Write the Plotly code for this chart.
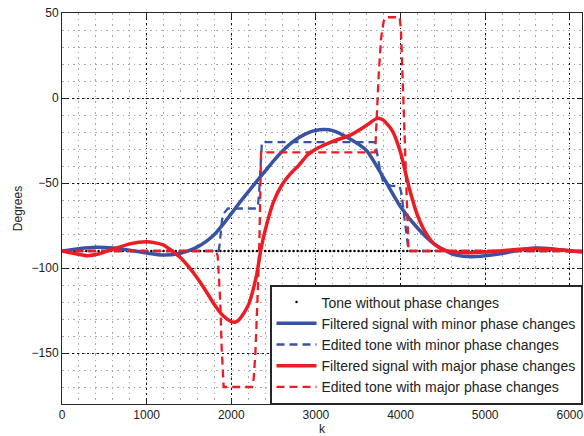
import plotly.graph_objects as go

# ---- data ----
tone_k = list(range(0, 6145, 48))
tone_deg = [-90] * len(tone_k)

blue_solid_k = [0, 200, 400, 600, 800, 1000, 1200, 1400, 1500, 1600, 1700, 1800, 1900, 2000, 2100,
                2200, 2300, 2400, 2500, 2600, 2700, 2800, 2900, 3000, 3100, 3200, 3400, 3600, 3800,
                4000, 4200, 4400, 4600, 4800, 5000, 5200, 5400, 5600, 5800, 6000, 6144]
blue_solid_deg = [-90, -88.6, -87.8, -88.2, -89.5, -91.2, -92.4, -91.3, -89.8, -87.6, -84.5, -80.3,
                  -74.5, -68.0, -61.5, -55.2, -49.0, -43.0, -37.0, -31.5, -26.8, -23.2, -20.6, -19.0,
                  -18.5, -19.2, -24.0, -31.0, -47.0, -64.0, -76.5, -86.0, -91.5, -93.3, -92.8, -91.5,
                  -89.5, -88.3, -88.8, -90.0, -90.5]

blue_dash_k = [0, 1850, 1862, 1875, 1890, 1910, 1930, 1960, 2300, 2318, 2330, 2340, 2350, 2362,
               3700, 3712, 3730, 3760, 3790, 3830, 3880, 3990, 4010, 4040, 4070, 4095, 6144]
blue_dash_deg = [-90, -90, -86.5, -79, -72, -68, -66.5, -65, -65, -62, -55, -45, -32, -26,
                 -26, -30, -35, -43, -48.5, -50.5, -51.5, -52, -56, -68, -80, -90, -90]

red_solid_k = [0, 150, 300, 450, 600, 800, 1000, 1200, 1400, 1500, 1600, 1700, 1800, 1900, 2000,
               2050, 2100, 2200, 2300, 2350, 2400, 2500, 2600, 2700, 2800, 2900, 3000, 3200, 3400,
               3600, 3700, 3750, 3800, 3900, 4000, 4100, 4200, 4300, 4400, 4500, 4600, 4800, 5000,
               5200, 5400, 5600, 5800, 6000, 6144]
red_solid_deg = [-90, -91.5, -92.8, -91.5, -89, -85.8, -84.5, -86.5, -94, -99.5, -106, -113.5,
                 -121.5, -128, -131.5, -131.8, -130, -122, -104, -89, -78, -61, -51, -44.5, -39.5,
                 -33.5, -30, -25.5, -22, -16, -12.5, -12, -13.2, -19, -32, -52.5, -69, -79.5, -86,
                 -89, -90.5, -91, -90.6, -89.8, -89, -88.5, -89, -89.8, -90.4]

red_dash_k = [0, 1820, 1840, 1855, 1870, 1885, 1900, 1910, 2245, 2265, 2285, 2305, 2320, 2332, 2343,
              2352, 3700, 3710, 3722, 3743, 3770, 3800, 3825, 3990, 4005, 4020, 4040, 4060, 4080,
              4095, 6144]
red_dash_deg = [-90, -90, -93, -104, -120, -145, -165, -170, -170, -165, -150, -127, -105, -85, -55,
                -32, -32, -20, -5, 15, 35, 45, 47.5, 47.5, 40, 18, -8, -34, -65, -90, -90]

x_ticks = [0, 1000, 2000, 3000, 4000, 5000, 6000]
y_ticks = [-150, -100, -50, 0, 50]

BLUE = "#3953A4"
RED = "#ED1C24"
FONT = "Liberation Sans"

fig = go.Figure()
fig.add_trace(go.Scatter(x=tone_k, y=tone_deg, mode="markers",
                         marker=dict(color="black", size=2.5),
                         name="Tone without phase changes"))
fig.add_trace(go.Scatter(x=blue_solid_k, y=blue_solid_deg, mode="lines",
                         line=dict(color=BLUE, width=3.5, shape="spline", smoothing=0.6),
                         name="Filtered signal with minor phase changes"))
fig.add_trace(go.Scatter(x=blue_dash_k, y=blue_dash_deg, mode="lines",
                         line=dict(color=BLUE, width=2.3, dash="8px,5px"),
                         name="Edited tone with minor phase changes"))
fig.add_trace(go.Scatter(x=red_solid_k, y=red_solid_deg, mode="lines",
                         line=dict(color=RED, width=3.5, shape="spline", smoothing=0.6),
                         name="Filtered signal with major phase changes"))
fig.add_trace(go.Scatter(x=red_dash_k, y=red_dash_deg, mode="lines",
                         line=dict(color=RED, width=2.3, dash="8px,5px"),
                         name="Edited tone with major phase changes"))

axis_common = dict(
    showline=True, linecolor="#262626", linewidth=1, mirror="ticks",
    ticks="inside", ticklen=5, tickcolor="#262626",
    showgrid=True, gridcolor="#111111", gridwidth=1, griddash="1.5px,3.5px",
    zeroline=False, automargin=False,
    tickfont=dict(family=FONT, size=12, color="#222"),
    title_font=dict(family=FONT, size=12, color="#222"),
)

fig.update_xaxes(range=[0, 6144], tickvals=x_ticks, title_text="k", title_standoff=7,
                 minor=dict(dtick=200, showgrid=True, gridcolor="#a8a8a8", gridwidth=1,
                            griddash="1.5px,4px"),
                 **axis_common)
fig.update_yaxes(range=[-180, 50], tickvals=y_ticks, title_text="Degrees", title_standoff=6,
                 minor=dict(dtick=10, showgrid=True, gridcolor="#a8a8a8", gridwidth=1,
                            griddash="1.5px,4px"),
                 **axis_common)

fig.update_layout(
    width=584, height=436,
    margin=dict(l=62, r=2, t=13, b=32),
    paper_bgcolor="white", plot_bgcolor="white",
    font=dict(family=FONT, size=12, color="#222"),
    legend=dict(x=1, y=0, xanchor="right", yanchor="bottom",
                bgcolor="white", bordercolor="#262626", borderwidth=1.5,
                font=dict(family=FONT, size=14, color="#222"),
                itemwidth=40),
)

fig.write_html("out.html")
